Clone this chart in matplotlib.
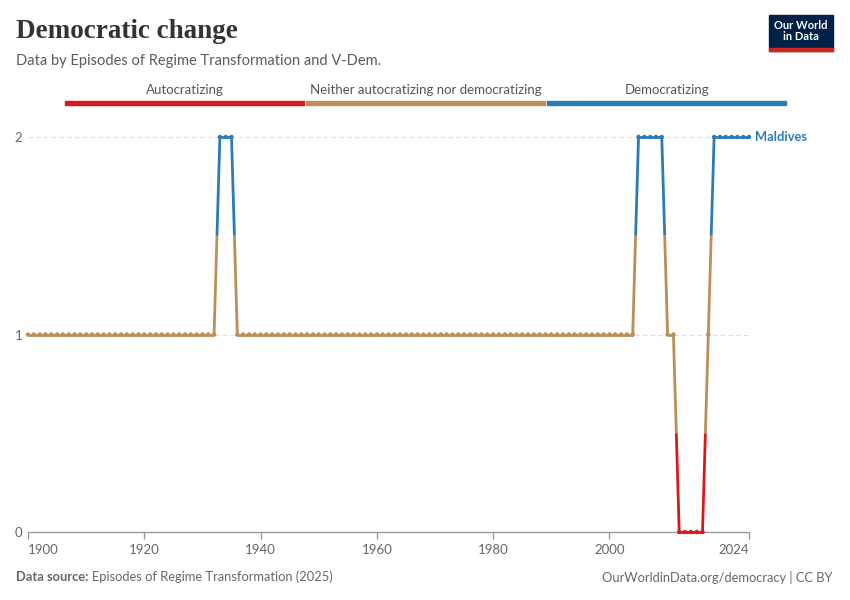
import matplotlib.pyplot as plt
from matplotlib.patches import Rectangle

# Maldives, democratic change by year (0 = autocratizing, 1 = neither, 2 = democratizing)
years = list(range(1900, 2025))
values = [
    1, 1, 1, 1, 1, 1, 1, 1, 1, 1,   # 1900s
    1, 1, 1, 1, 1, 1, 1, 1, 1, 1,   # 1910s
    1, 1, 1, 1, 1, 1, 1, 1, 1, 1,   # 1920s
    1, 1, 1, 2, 2, 2, 1, 1, 1, 1,   # 1930s
    1, 1, 1, 1, 1, 1, 1, 1, 1, 1,   # 1940s
    1, 1, 1, 1, 1, 1, 1, 1, 1, 1,   # 1950s
    1, 1, 1, 1, 1, 1, 1, 1, 1, 1,   # 1960s
    1, 1, 1, 1, 1, 1, 1, 1, 1, 1,   # 1970s
    1, 1, 1, 1, 1, 1, 1, 1, 1, 1,   # 1980s
    1, 1, 1, 1, 1, 1, 1, 1, 1, 1,   # 1990s
    1, 1, 1, 1, 1, 2, 2, 2, 2, 2,   # 2000s
    1, 1, 0, 0, 0, 0, 0, 1, 2, 2,   # 2010s
    2, 2, 2, 2, 2,                  # 2020s
]
categories = ["Autocratizing", "Neither autocratizing nor democratizing", "Democratizing"]
cat_colors = ["#d7191c", "#bc8e5a", "#2c7bb6"]
x_ticks = [1900, 1920, 1940, 1960, 1980, 2000, 2024]
y_ticks = [0, 1, 2]

plt.rcParams['font.family'] = ['Lato', 'DejaVu Sans']

fig = plt.figure(figsize=(8.5, 6), dpi=100)
ax = fig.add_axes([28 / 850, 68 / 600, (749 - 28) / 850, (532 - 137) / 600])

# line segments: each half takes the colour of its nearest point
for i in range(len(years) - 1):
    x0, x1 = years[i], years[i + 1]
    v0, v1 = values[i], values[i + 1]
    if v0 == v1:
        ax.plot([x0, x1], [v0, v1], color=cat_colors[v0], lw=2, solid_capstyle='butt', clip_on=False, zorder=3)
    else:
        xm, vm = (x0 + x1) / 2, (v0 + v1) / 2
        ax.plot([x0, xm], [v0, vm], color=cat_colors[v0], lw=2, solid_capstyle='butt', clip_on=False, zorder=3)
        ax.plot([xm, x1], [vm, v1], color=cat_colors[v1], lw=2, solid_capstyle='butt', clip_on=False, zorder=3)

ax.scatter(years, values, c=[cat_colors[v] for v in values], s=10, zorder=4, clip_on=False, linewidths=0)

ax.set_xlim(1900, 2024)
ax.set_ylim(0, 2)
for s in ['top', 'right', 'left']:
    ax.spines[s].set_visible(False)
ax.spines['bottom'].set_color('#999999')
ax.spines['bottom'].set_linewidth(1)

ax.set_xticks(x_ticks)
ax.set_xticklabels([str(t) for t in x_ticks])
ax.get_xticklabels()[0].set_ha('left')
ax.get_xticklabels()[-1].set_ha('right')
ax.tick_params(axis='x', length=5, width=1, color='#999999', labelsize=9.5, labelcolor='#666666', pad=4)
ax.set_yticks(y_ticks)
ax.set_yticklabels([str(t) for t in y_ticks])
ax.tick_params(axis='y', length=0, labelsize=9.5, labelcolor='#666666', pad=4)
for y in y_ticks[1:]:
    ax.axhline(y, color='#dddddd', lw=0.8, ls=(0, (4, 3)), zorder=1)

ax.text(2025, 2, "Maldives", color=cat_colors[2], fontsize=9.3, fontweight='bold', va='center', ha='left')

# colour legend bar on top
bar_left, bar_w = 65, 240
for k, (name, col) in enumerate(zip(categories, cat_colors)):
    x0 = bar_left + k * bar_w + k * 1
    fig.patches.append(Rectangle((x0 / 850, 1 - 105 / 600), (bar_w - 1) / 850, 4 / 600,
                                 transform=fig.transFigure, color=col))
    fig.text((x0 + bar_w / 2) / 850, 1 - 90 / 600, name, ha='center', va='center', fontsize=9.5, color='#555555')

# header
fig.text(16 / 850, 1 - 31 / 600, "Democratic change", fontsize=19.5, family='Liberation Serif',
         fontweight='bold', color='#333333', va='center', ha='left')
fig.text(16 / 850, 1 - 61 / 600, "Data by Episodes of Regime Transformation and V-Dem.", fontsize=10.5,
         color='#5b5b5b', va='center', ha='left')

# logo
fig.patches.append(Rectangle((769 / 850, 1 - 51 / 600), 64 / 850, 36 / 600, transform=fig.transFigure, color='#002147'))
fig.patches.append(Rectangle((769 / 850, 1 - 51 / 600), 64 / 850, 3 / 600, transform=fig.transFigure, color='#ce261e'))
fig.text(801 / 850, 1 - 31 / 600, "Our World\nin Data", color='white', fontsize=8, fontweight='bold',
         ha='center', va='center', linespacing=1.0)

# footer
fig.text(16 / 850, 1 - 577 / 600, "Data source:", fontsize=9.3, fontweight='bold', color='#666666', va='center')
fig.text(92 / 850, 1 - 577 / 600, "Episodes of Regime Transformation (2025)", fontsize=9.3, color='#666666', va='center')
fig.text(833 / 850, 1 - 577 / 600, "OurWorldinData.org/democracy | CC BY", fontsize=9.3, color='#666666',
         va='center', ha='right')

fig.savefig("out.png", dpi=100, facecolor='white')
